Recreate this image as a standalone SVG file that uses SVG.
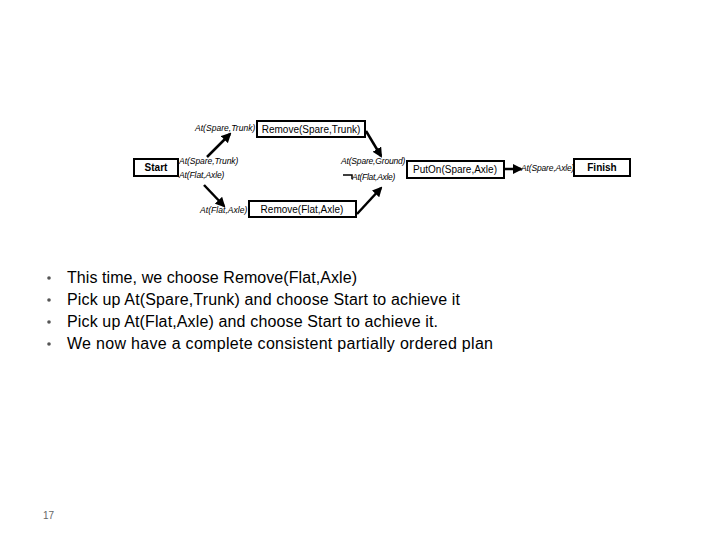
<svg xmlns="http://www.w3.org/2000/svg" width="720" height="540" viewBox="0 0 720 540">
<style>
.box{fill:#fff;stroke:#000;stroke-width:2}
.nm{font-family:"Liberation Sans",Arial,sans-serif;font-size:10px;fill:#000}
.b{font-weight:bold}
.lb{font-family:"Liberation Sans",Arial,sans-serif;font-size:8.5px;font-style:italic;fill:#000;letter-spacing:-0.4px}
.ar{stroke:#000;stroke-width:2.5;fill:none;marker-end:url(#ah)}
.bl{font-family:"Liberation Sans",Arial,sans-serif;font-size:16px;fill:#000}
.dot{fill:#555}
</style>
<defs>
<marker id="ah" viewBox="0 0 10 10" refX="8" refY="5" markerWidth="4" markerHeight="4" orient="auto" markerUnits="strokeWidth">
<path d="M0,0 L10,5 L0,10 z" fill="#000"/>
</marker>
</defs>
<rect width="720" height="540" fill="#fff"/>
<g id="start"><rect class="box" x="134" y="159" width="44" height="17"/><text class="nm b" x="156" y="171" text-anchor="middle">Start</text></g>
<g id="remove-spare"><rect class="box" x="257" y="121" width="108" height="16"/><text class="nm" x="311" y="133" text-anchor="middle">Remove(Spare,Trunk)</text></g>
<g id="remove-flat"><rect class="box" x="249" y="201" width="107" height="16"/><text class="nm" x="302" y="213" text-anchor="middle">Remove(Flat,Axle)</text></g>
<g id="puton"><rect class="box" x="407" y="161" width="97" height="17"/><text class="nm" x="455" y="173" text-anchor="middle">PutOn(Spare,Axle)</text></g>
<g id="finish"><rect class="box" x="574" y="159" width="56" height="17"/><text class="nm b" x="602" y="171" text-anchor="middle">Finish</text></g>
<g id="labels">
<text class="lb" x="195" y="131" textLength="60">At(Spare,Trunk)</text>
<text class="lb" x="179" y="164" textLength="59">At(Spare,Trunk)</text>
<text class="lb" x="179" y="178" textLength="45">At(Flat,Axle)</text>
<text class="lb" x="200" y="213" textLength="47">At(Flat,Axle)</text>
<text class="lb" x="341" y="164" textLength="64">At(Spare,Ground)</text>
<text class="lb" x="352" y="180" textLength="43">At(Flat,Axle)</text>
<text class="lb" x="521" y="171" textLength="53">At(Spare,Axle)</text>
</g>
<g id="connectors">
<path class="ar" d="M207,157 L230,134"/>
<path class="ar" d="M366,131 L381,156"/>
<path class="ar" d="M204,185 L224,206"/>
<path class="ar" d="M357,214 L381,188"/>
<path class="ar" d="M505,169 L521,169"/>
<path d="M343,175 L352,175 L352,179" stroke="#000" stroke-width="1.5" fill="none"/>
</g>
<g id="bullets">
<circle class="dot" cx="49" cy="278" r="1.8"/><text class="bl" x="67" y="283" textLength="290">This time, we choose Remove(Flat,Axle)</text>
<circle class="dot" cx="49" cy="300" r="1.8"/><text class="bl" x="67" y="305" textLength="393">Pick up At(Spare,Trunk) and choose Start to achieve it</text>
<circle class="dot" cx="49" cy="322" r="1.8"/><text class="bl" x="67" y="327" textLength="371">Pick up At(Flat,Axle) and choose Start to achieve it.</text>
<circle class="dot" cx="49" cy="344" r="1.8"/><text class="bl" x="67" y="349" textLength="426">We now have a complete consistent partially ordered plan</text>
</g>
<text x="43" y="519" font-family="Liberation Sans,Arial,sans-serif" font-size="10" fill="#666">17</text>
</svg>
